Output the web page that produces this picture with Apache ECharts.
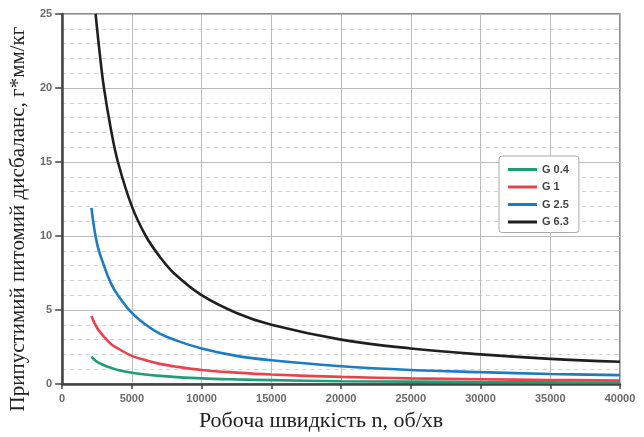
<!DOCTYPE html>
<html>
<head>
<meta charset="utf-8">
<script src="https://cdn.jsdelivr.net/npm/echarts@6/dist/echarts.min.js"></script>
<style>html,body{margin:0;padding:0;background:#fff}#c{width:644px;height:437px}</style>
</head>
<body>
<div id="c"></div>
<script>
const seriesNames = ['G 0.4', 'G 1', 'G 2.5', 'G 6.3'];
const seriesColors = ['#1e9e74', '#e8434c', '#1b7cc4', '#1f1f1f'];
const rpmLow = [2100, 2500, 3000, 3500, 4000, 5000, 6000, 7000, 8000, 10000, 12500, 15000, 20000, 25000, 30000, 35000, 40000];
const g04 = [1.85, 1.5, 1.27, 1.1, 0.95, 0.76, 0.64, 0.55, 0.48, 0.38, 0.31, 0.26, 0.19, 0.16, 0.13, 0.11, 0.1];
const g1 = [4.6, 3.8, 3.2, 2.7, 2.4, 1.9, 1.6, 1.36, 1.2, 0.95, 0.77, 0.64, 0.48, 0.38, 0.32, 0.27, 0.24];
const g25 = [11.9, 9.5, 8.0, 6.8, 6.0, 4.8, 4.0, 3.4, 3.0, 2.4, 1.9, 1.6, 1.2, 0.95, 0.8, 0.68, 0.6];
const rpmHigh = [2400, 2700, 3000, 3500, 4000, 5000, 6000, 7000, 8000, 10000, 12500, 15000, 20000, 25000, 30000, 35000, 40000];
const g63 = [25, 22.3, 20, 17.2, 15, 12, 10, 8.6, 7.5, 6.0, 4.8, 4.0, 3.0, 2.4, 2.0, 1.7, 1.5];
const xTicks = [0, 5000, 10000, 15000, 20000, 25000, 30000, 35000, 40000];
const yTicks = [0, 5, 10, 15, 20, 25];
const xTitle = 'Робоча швидкість n, об/хв';
const yTitle = 'Припустимий питомий дисбаланс, г*мм/кг';

function pairs(xs, ys) { return xs.map((x, i) => [x, ys[i]]); }
const seriesData = [pairs(rpmLow, g04), pairs(rpmLow, g1), pairs(rpmLow, g25), pairs(rpmHigh, g63)];

const chart = echarts.init(document.getElementById('c'), null, {renderer: 'canvas'});
const tickFont = {color: '#6a6a6a', fontFamily: 'Liberation Sans', fontWeight: 'bold', fontSize: 11};
chart.setOption({
  animation: false,
  grid: {left: 58, right: 24, top: 14, bottom: 50, show: true, borderColor: '#666', borderWidth: 1.5},
  legend: {
    orient: 'vertical', left: 499, top: 156,
    data: seriesNames,
    itemWidth: 29, itemHeight: 3, itemGap: 6.5,
    icon: 'rect',
    textStyle: {color: '#444', fontFamily: 'Liberation Sans', fontWeight: 'bold', fontSize: 11},
    borderColor: '#aaa', borderWidth: 1, borderRadius: 3, backgroundColor: '#fff',
    padding: [8, 10, 5, 9]
  },
  xAxis: {
    type: 'value', min: xTicks[0], max: xTicks[xTicks.length - 1], interval: 5000,
    name: xTitle, nameLocation: 'middle', nameGap: 26,
    nameTextStyle: {fontFamily: 'Liberation Serif', fontSize: 22, color: '#222', padding: [0, 40, 0, 0]},
    axisLine: {show: true, lineStyle: {color: '#444', width: 2.5}},
    axisTick: {show: true, length: 5, lineStyle: {color: '#444', width: 1.5}},
    axisLabel: Object.assign({margin: 9, formatter: v => String(v)}, tickFont),
    splitLine: {show: true, lineStyle: {color: '#bbb', width: 1}}
  },
  yAxis: {
    type: 'value', min: yTicks[0], max: yTicks[yTicks.length - 1], interval: 5,
    name: yTitle, nameLocation: 'middle', nameGap: 26,
    nameTextStyle: {fontFamily: 'Liberation Serif', fontSize: 21, color: '#222', padding: [0, 40, 0, 0]},
    axisLine: {show: true, lineStyle: {color: '#444', width: 2.5}},
    axisTick: {show: true, length: 7, lineStyle: {color: '#444', width: 1.5}},
    axisLabel: Object.assign({margin: 10, formatter: v => String(v)}, tickFont),
    splitLine: {show: true, lineStyle: {color: '#bbb', width: 1}},
    minorTick: {show: false, splitNumber: 5},
    minorSplitLine: {show: true, lineStyle: {color: '#d2d2d2', width: 1, type: [4, 4]}}
  },
  series: seriesNames.map((n, i) => ({
    name: n, type: 'line', data: seriesData[i], smooth: 0.4, showSymbol: false,
    lineStyle: {color: seriesColors[i], width: 2.6}, itemStyle: {color: seriesColors[i]},
    clip: true
  }))
});
</script>
</body>
</html>
